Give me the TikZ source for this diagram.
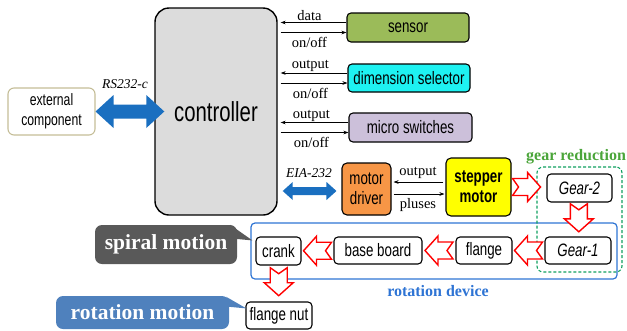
\documentclass[tikz,border=0pt]{standalone}
\usepackage{fontspec}
\setmainfont{Liberation Serif}
\newfontfamily\nsans[FakeStretch=0.74]{Liberation Sans}
\usetikzlibrary{calc,arrows.meta}

\definecolor{ctrlgray}{HTML}{DCDCDC}
\definecolor{extborder}{HTML}{C4BD97}
\definecolor{sensorgreen}{HTML}{9BBB59}
\definecolor{selcyan}{HTML}{1EF2F2}
\definecolor{microlav}{HTML}{CCC0DA}
\definecolor{driverorange}{HTML}{F79646}
\definecolor{stepyellow}{HTML}{FFFF00}
\definecolor{arrowblue}{HTML}{1A6FC0}
\definecolor{devblue}{HTML}{2E74D4}
\definecolor{geargreen}{HTML}{10A060}
\definecolor{gearlabel}{HTML}{4BA53A}
\definecolor{spiralgray}{HTML}{595959}
\definecolor{rotblue}{HTML}{4F81BD}

% horizontal two-headed block arrow: left tip, right tip, shaft half, head half, head length
\newcommand\bidirarrow[5]{%
  \fill[arrowblue] (#1) -- ($(#1)+(#5,-#4)$) -- ($(#1)+(#5,-#3)$)
    -- ($(#2)+(-#5,-#3)$) -- ($(#2)+(-#5,-#4)$) -- (#2)
    -- ($(#2)+(-#5,#4)$) -- ($(#2)+(-#5,#3)$)
    -- ($(#1)+(#5,#3)$) -- ($(#1)+(#5,#4)$) -- cycle;}

\begin{document}
\begin{tikzpicture}[x=1pt,y=-1pt,
  box/.style={draw=black, line width=1.1pt, rounded corners=4pt, inner sep=0pt,
    align=center, font=\nsans\fontsize{18}{20}\selectfont},
  sig/.style={-{Stealth[length=5pt,width=3.6pt]}, line width=0.6pt},
  lbl/.style={inner sep=0pt, font=\fontsize{14.5}{16}\selectfont},
  callout/.style={rounded corners=7pt, inner sep=0pt, text=white,
    font=\bfseries\fontsize{21.5}{24}\selectfont},
  notcharrow/.pic={\draw[red, line width=1.4pt, fill=white, line join=miter]
    (-14,8.5) -- (1,8.5) -- (1,14.5) -- (14,0) -- (1,-14.5) -- (1,-8.5)
    -- (-14,-8.5) -- (-8,0) -- cycle;}
]
\useasboundingbox (0,0) rectangle (627,330);

% group frames
\node[draw=devblue, line width=1.2pt, rounded corners=4pt,
      minimum width=366pt, minimum height=56pt] (rotdev) at (434,251) {};
\node[draw=geargreen, line width=1.1pt, dash pattern=on 3pt off 2pt,
      rounded corners=6pt, minimum width=85pt, minimum height=105pt] (gearred) at (579.5,219.5) {};
\node[anchor=west, inner sep=0pt, text=gearlabel,
      font=\bfseries\fontsize{16}{18}\selectfont] (gearlbl) at (526,157) {gear reduction};
\node[inner sep=0pt, text=devblue,
      font=\bfseries\fontsize{16}{18}\selectfont] (rotlbl) at (438,291) {rotation device};

% main blocks
\node[box, fill=ctrlgray, line width=1.4pt, rounded corners=14pt,
      minimum width=122pt, minimum height=207pt,
      font=\nsans\fontsize{27.5}{30}\selectfont] (controller) at (216,111.5) {controller};
\node[box, draw=extborder, rounded corners=6pt, minimum width=87pt, minimum height=47pt,
      font=\nsans\fontsize{16.5}{20}\selectfont] (ext) at (51.5,111.5) {external\\component};
\node[box, fill=sensorgreen, minimum width=122pt, minimum height=29pt] (sensor) at (408,27.5) {sensor};
\node[box, fill=selcyan, minimum width=122pt, minimum height=28pt] (dimsel) at (409,78) {dimension selector};
\node[box, fill=microlav, minimum width=123pt, minimum height=29pt] (micro) at (410.5,127.5) {micro switches};
\node[box, fill=driverorange, rounded corners=5pt, minimum width=49pt, minimum height=52pt] (driver) at (366.5,189) {motor\\driver};
\node[box, fill=stepyellow, rounded corners=5pt, minimum width=65pt, minimum height=58pt,
      font=\nsans\bfseries\fontsize{18}{20}\selectfont] (stepper) at (478.5,187) {stepper\\motor};

% mechanism blocks
\node[box, minimum width=65pt, minimum height=28pt, font=\nsans\itshape\fontsize{18}{20}\selectfont] (gear2) at (579.5,188) {Gear-2};
\node[box, minimum width=66pt, minimum height=27pt, font=\nsans\itshape\fontsize{18}{20}\selectfont] (gear1) at (578,250.5) {Gear-1};
\node[box, minimum width=56pt, minimum height=27pt] (flange) at (484,250.5) {flange};
\node[box, minimum width=88pt, minimum height=27pt] (base) at (378,250.5) {base board};
\node[box, minimum width=45pt, minimum height=28pt] (crank) at (278.5,251) {crank};
\node[box, minimum width=66pt, minimum height=27pt] (nut) at (279,315.5) {flange nut};

% signal lines between the controller and the peripherals
\foreach \dev/\up/\dn in {sensor/data/on\slash off, dimsel/output/on\slash off, micro/output/on\slash off}{
  \coordinate (\dev-in) at ([yshift=5pt]\dev.west);
  \coordinate (\dev-out) at ([yshift=-5pt]\dev.west);
  \draw[sig] (\dev-in) -- ([xshift=3pt]\dev-in -| controller.east);
  \draw[sig] ([xshift=3pt]\dev-out -| controller.east) -- (\dev-out);
  \node[lbl] at ($(\dev-in)+(-37,-7)$) {\up};
  \node[lbl] at ($(\dev-out)+(-37,10)$) {\dn};
}

% driver <-> stepper motor
\coordinate (stp-out) at ([yshift=5pt]stepper.west);
\coordinate (stp-in) at ([yshift=-7pt]stepper.west);
\draw[sig] ([xshift=-2pt]stp-out) -- ([xshift=2pt]stp-out -| driver.east);
\draw[sig] ([xshift=2pt]stp-in -| driver.east) -- ([xshift=-1pt]stp-in);
\node[lbl] (outlbl) at (418,173) {output};
\node[lbl] (pluslbl) at (418,205) {pluses};

% serial links
\coordinate (rsL) at (ext.east);
\coordinate (rsR) at ([xshift=10pt]controller.west);
\bidirarrow{rsL}{rsR}{7}{16.5}{18}
\node[lbl, font=\itshape\fontsize{13.5}{15}\selectfont] (rslbl) at (125,84) {RS232-c};

\coordinate (eiaR) at ($(driver.west)+(-5,2)$);
\coordinate (eiaL) at ([xshift=5pt]eiaR -| controller.east);
\bidirarrow{eiaL}{eiaR}{4}{9}{10}
\node[lbl, font=\itshape\fontsize{13.5}{15}\selectfont] (eialbl) at (309,173) {EIA-232};

% mechanical transmission
\pic at ([xshift=15pt]stepper.east) {notcharrow};
\pic[rotate=-90] at ($(gear2.south)!0.45!(gear1.north)$) {notcharrow};
\pic[rotate=180] at ($(gear1.west)!0.5!(flange.east)$) {notcharrow};
\pic[rotate=180] at ($(flange.west)!0.5!(base.east)$) {notcharrow};
\pic[rotate=180] at ($(base.west)!0.5!(crank.east)$) {notcharrow};
\pic[rotate=-90] at ($(crank.south)!0.45!(nut.north)$) {notcharrow};

% motion callouts
\node[callout, fill=spiralgray, minimum width=142pt, minimum height=39pt] (spiral) at (166,244.5) {spiral motion};
\fill[spiralgray] ([xshift=-7pt]spiral.north east) -- ($(crank.north west)+(-3,4)$)
  -- ($(spiral.east)+(0,-5.5)$) -- cycle;
\node[callout, fill=rotblue, minimum width=173pt, minimum height=33pt] (rotmot) at (142.5,312.5) {rotation motion};
\fill[rotblue] ($(rotmot.north east)+(-3,1)$) -- ($(nut.north west)+(1,7)$)
  -- ($(rotmot.north east)+(0,11)$) -- cycle;
\end{tikzpicture}
\end{document}
